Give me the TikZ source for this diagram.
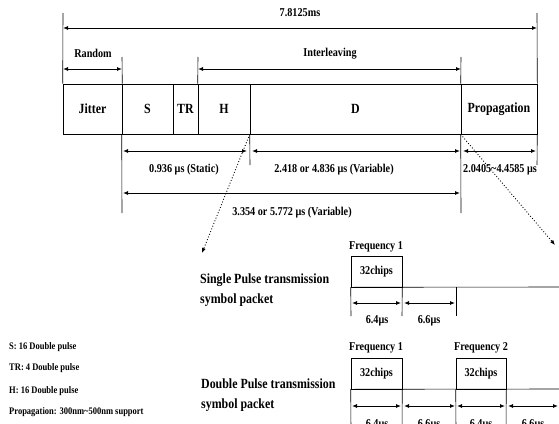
\documentclass[tikz,border=0pt]{standalone}
\usepackage{fontspec}
\setmainfont{Liberation Serif}[FakeStretch=0.85]
\usetikzlibrary{arrows.meta}
\tikzset{
  lbl/.style={font=\bfseries\fontsize{12}{13}\selectfont, inner sep=0pt},
  big/.style={font=\bfseries\fontsize{14}{20}\selectfont, inner sep=0pt},
  legend/.style={font=\bfseries\fontsize{10}{11}\selectfont, inner sep=0pt, anchor=west},
  cell/.style={draw, line width=0.6pt, minimum height=50pt, inner sep=0pt, big},
  chip/.style={draw, line width=0.6pt, minimum height=31pt, minimum width=51pt, inner sep=0pt, lbl},
  ext/.style={line width=0.6pt},
  dim/.style={{Latex[length=5pt,width=4pt]}-{Latex[length=5pt,width=4pt]}, line width=0.9pt},
  zoomarr/.style={dotted, line width=0.9pt, -{Latex[length=5pt,width=4pt]}},
}
\begin{document}
\begin{tikzpicture}[x=1pt,y=-1pt]
\clip (0,0) rectangle (559,423);
\fill[white] (0,0) rectangle (559,423);
% frame cells
\node[cell, minimum width=59pt]  (jit)  at (92.5,109)  {Jitter};
\node[cell, minimum width=51pt]  (s)    at (147.5,109) {S};
\node[cell, minimum width=25pt]  (tr)   at (185.5,109) {TR};
\node[cell, minimum width=52pt]  (h)    at (224,109)   {H};
\node[cell, minimum width=211pt] (d)    at (355.5,109) {D};
\node[cell, minimum width=76pt]  (prop) at (499,109)   {Propagation};
% extension line ends
\coordinate (tl) at (63,13);
\coordinate (tr2) at (537,13);
\coordinate (ua) at (122,57);
\coordinate (uc) at (198,57);
\coordinate (uf) at (461,57);
\coordinate (la) at (122,213);
\coordinate (le) at (250,165);
\coordinate (lf) at (461,213);
\coordinate (lr) at (537,165);
\draw[ext] (jit.north west) -- (tl);
\draw[ext] (prop.north east) -- (tr2);
\draw[ext] (jit.north east) -- (ua);
\draw[ext] (h.north west) -- (uc);
\draw[ext] (prop.north west) -- (uf);
\draw[ext] (s.south west) -- (la);
\draw[ext] (d.south west) -- (le);
\draw[ext] (prop.south west) -- (lf);
\draw[ext] (prop.south east) -- (lr);
% dimension arrows above
\coordinate (t1) at (63,28); \coordinate (t2) at (537,28);
\draw[dim] (t1) -- (t2);
\node[lbl] (ttot) at (300,13) {7.8125ms};
\coordinate (r1) at (63,69); \coordinate (r2) at (122,69);
\draw[dim] (r1) -- (r2);
\node[lbl] (trand) at (93,53) {Random};
\coordinate (i1) at (198,69); \coordinate (i2) at (461,69);
\draw[dim] (i1) -- (i2);
\node[lbl] (tint) at (330,54) {Interleaving};
% dimension arrows below
\coordinate (a1) at (123,151); \coordinate (a2) at (247,151);
\coordinate (b1) at (252,151); \coordinate (b2) at (460,151);
\coordinate (c1) at (463,151); \coordinate (c2) at (536,151);
\draw[dim] (a1) -- (a2);
\draw[dim] (b1) -- (b2);
\draw[dim] (c1) -- (c2);
\node[lbl] (tsta) at (184,170) {0.936 μs (Static)};
\node[lbl] (tvar) at (334,170) {2.418 or 4.836 μs (Variable)};
\node[lbl] (tpro) at (500,170) {2.0405\textasciitilde4.4585 μs};
\coordinate (e1) at (123,193); \coordinate (e2) at (460,193);
\draw[dim] (e1) -- (e2);
\node[lbl] (ttv) at (292,213) {3.354 or 5.772 μs (Variable)};
% dotted zoom arrows
\coordinate (z1) at (202,253);
\coordinate (z2) at (555,245);
\draw[zoomarr] (d.south west) -- (z1);
\draw[zoomarr] (prop.south west) -- (z2);
% single pulse
\node[big, anchor=west, align=left] (sp) at (200,290) {Single Pulse transmission\\symbol packet};
\node[lbl] (sf1) at (376,247) {Frequency 1};
\node[chip] (sc1) at (376.5,271.5) {32chips};
\coordinate (sbe) at (560,287);
\coordinate (sm) at (456,287);
\coordinate (sv1) at (351,316); \coordinate (sv2) at (402,316); \coordinate (sv3) at (456,316);
\draw[ext] (sc1.south west) -- (sbe);
\draw[ext] (sc1.south west) -- (sv1);
\draw[ext] (sc1.south east) -- (sv2);
\draw[ext] (sm) -- (sv3);
\coordinate (sa1) at (352,303); \coordinate (sa2) at (401,303);
\coordinate (sa3) at (404,303); \coordinate (sa4) at (455,303);
\draw[dim] (sa1) -- (sa2);
\draw[dim] (sa3) -- (sa4);
\node[lbl] (sl1) at (377,321) {6.4μs};
\node[lbl] (sl2) at (429,321) {6.6μs};
% double pulse
\node[big, anchor=west, align=left] (dp) at (201,395) {Double Pulse transmission\\symbol packet};
\node[lbl] (df1) at (376,348) {Frequency 1};
\node[lbl] (df2) at (481,348) {Frequency 2};
\node[chip] (dc1) at (376.5,373.5) {32chips};
\node[chip, minimum width=50pt] (dc2) at (481,373.5) {32chips};
\coordinate (dbe) at (560,389);
\coordinate (dv1) at (351,430); \coordinate (dv2) at (402,430);
\coordinate (dv3) at (456,430); \coordinate (dv4) at (506,430);
\draw[ext] (dc1.south west) -- (dbe);
\draw[ext] (dc1.south west) -- (dv1);
\draw[ext] (dc1.south east) -- (dv2);
\draw[ext] (dc2.south west) -- (dv3);
\draw[ext] (dc2.south east) -- (dv4);
\coordinate (da1) at (352,406); \coordinate (da2) at (401,406);
\coordinate (da3) at (404,406); \coordinate (da4) at (455,406);
\coordinate (da5) at (457,406); \coordinate (da6) at (505,406);
\coordinate (da7) at (508,406); \coordinate (da8) at (558,406);
\draw[dim] (da1) -- (da2);
\draw[dim] (da3) -- (da4);
\draw[dim] (da5) -- (da6);
\draw[dim] (da7) -- (da8);
\node[lbl] (dl1) at (377,425) {6.4μs};
\node[lbl] (dl2) at (429,425) {6.6μs};
\node[lbl] (dl3) at (481,425) {6.4μs};
\node[lbl] (dl4) at (533,425) {6.6μs};
% legend
\node[legend] (g1) at (9,347) {S: 16 Double pulse};
\node[legend] (g2) at (9,368) {TR: 4 Double pulse};
\node[legend] (g3) at (9,391) {H: 16 Double pulse};
\node[legend] (g4) at (9,412) {Propagation: 300nm\textasciitilde500nm support};
\end{tikzpicture}
\end{document}
